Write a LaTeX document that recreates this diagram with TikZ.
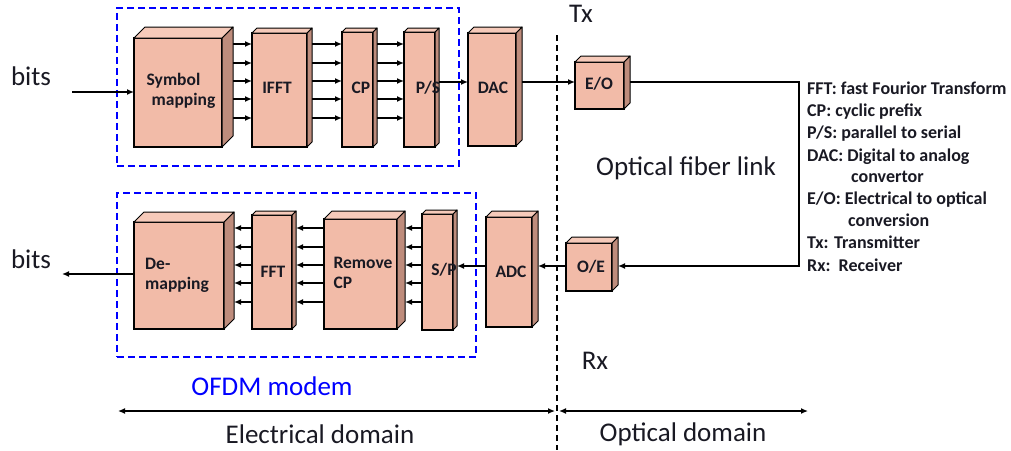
\documentclass[tikz,border=0pt]{standalone}
\usepackage{fontspec}
\setmainfont{Carlito}
\usetikzlibrary{arrows.meta,calc}
\definecolor{facec}{RGB}{242,187,168}
\definecolor{sidec}{RGB}{190,140,124}
\definecolor{topc}{RGB}{246,202,186}
\definecolor{modblue}{RGB}{0,0,255}
\definecolor{txtc}{RGB}{25,25,35}
\tikzset{
 face/.style={draw=black, line width=1.5pt, fill=facec, inner sep=0pt, outer sep=0pt, anchor=north west},
 sidef/.style={draw=black, line width=1pt, fill=sidec, line join=round},
 topf/.style={draw=black, line width=1pt, fill=topc, line join=round},
 lbl/.style={font=\bfseries\fontsize{17.5}{20}\selectfont, align=left, inner sep=0pt, text=txtc},
 arr/.style={line width=1.3pt, -{Latex[length=7pt,width=6pt]}},
 darr/.style={line width=1.3pt, {Latex[length=7pt,width=6pt]}-{Latex[length=7pt,width=6pt]}},
 big/.style={font=\fontsize{27}{30}\selectfont, inner sep=0pt, text=txtc},
 leg/.style={font=\bfseries\fontsize{18}{20}\selectfont, inner sep=0pt, anchor=base west, text=txtc},
 bluebox/.style={draw=modblue, line width=1.5pt, dash pattern=on 7pt off 4pt, inner sep=0pt, anchor=north west},
 divider/.style={line width=1.2pt, dash pattern=on 6pt off 4pt},
}
\newcommand{\blk}[9]{%
 \pgfmathsetmacro{\blkw}{#4-#2}%
 \pgfmathsetmacro{\blkh}{#5-#3}%
 \node[face, minimum width=\blkw pt, minimum height=\blkh pt] (#1) at (#2,#3) {};
 \filldraw[sidef] (#1.north east) -- ++(#6,-#6) -- ++(0,\blkh) -- (#1.south east) -- cycle;
 \filldraw[topf] (#1.north west) -- ++(#6,-#6) -- ++(\blkw,0) -- (#1.north east) -- cycle;
 \coordinate (#1-r) at ($(#1.east)+(#6,0)$);
 \node[lbl] (#1-t) at (#7,#8) {#9};
}
\begin{document}
\begin{tikzpicture}[x=1pt,y=-1pt]
\useasboundingbox (0,0) rectangle (1011,450);
% modem boxes
\node[bluebox, minimum width=342pt, minimum height=158pt] (txbox) at (116,7) {};
\node[bluebox, minimum width=359pt, minimum height=164pt] (rxbox) at (116,192) {};
% divider
\coordinate (dtop) at (557,35);
\coordinate (dbot) at (557,450);
\draw[divider] (dtop) -- (dbot);
% blocks (transmitter)
\blk{sym}{134}{38}{222}{147}{11}{181}{91}{Symbol\\\hspace*{5pt}mapping}
\blk{ifft}{252}{33}{307}{147}{5}{277}{88}{IFFT}
\blk{cp}{342}{32}{373}{147}{4}{361}{88}{CP}
\blk{ps}{404}{32}{435}{147}{4}{428}{88}{P/S}
\blk{dac}{468}{33}{516}{146}{6}{493}{88}{DAC}
\blk{eo}{575}{62}{624}{109}{6}{599}{84}{E/O}
% blocks (receiver)
\blk{oe}{566}{243}{612}{291}{6}{591}{267}{O/E}
\blk{adc}{486}{217}{532}{327}{6}{511}{272}{ADC}
\blk{sp}{422}{214}{453}{330}{4}{444}{270}{S/P}
\blk{rcp}{324}{219}{397}{329}{8}{363}{273}{Remove\\CP}
\blk{fft}{252}{215}{292}{329}{4}{273}{272}{FFT}
\blk{dem}{134}{222}{224}{329}{10}{177}{275}{De-\\mapping}
% parallel arrows (tx)
\foreach \yy in {44,63,81,99,118}{
  \draw[arr] (sym-r |- 0,\yy) -- (ifft.west |- 0,\yy);
  \draw[arr] (ifft-r |- 0,\yy) -- (cp.west |- 0,\yy);
  \draw[arr] (cp-r |- 0,\yy) -- (ps.west |- 0,\yy);
}
\coordinate (tl) at (0,82);
\draw[arr] (ps-r |- tl) -- (dac.west |- tl);
\draw[arr] (dac-r |- tl) -- (eo.west |- tl);
% parallel arrows (rx)
\foreach \yy in {228,247,265,283,302}{
  \draw[arr] (sp.west |- 0,\yy) -- (rcp-r |- 0,\yy);
  \draw[arr] (rcp.west |- 0,\yy) -- (fft-r |- 0,\yy);
  \draw[arr] (fft.west |- 0,\yy) -- (dem-r |- 0,\yy);
}
\coordinate (rl) at (0,266);
\draw[arr] (adc.west |- rl) -- (sp-r |- rl);
\draw[arr] (oe.west |- rl) -- (adc-r |- rl);
% fiber link
\coordinate (f1) at (799,82);
\coordinate (f2) at (799,266);
\draw[arr] (eo-r |- f1) -- (f1) -- (f2) -- (oe-r |- f2);
% bits
\coordinate (bin) at (72,92);
\coordinate (bout) at (62,274);
\draw[arr] (bin) -- (sym.west |- bin);
\draw[arr] (dem.west |- bout) -- (bout);
% domain arrows
\coordinate (el) at (118,411);
\coordinate (em) at (555,411);
\coordinate (om) at (559,411);
\coordinate (or) at (808,411);
\draw[darr] (el) -- (em);
\draw[darr] (om) -- (or);
% texts
\node[big] (bitsin) at (31,76) {bits};
\node[big] (bitsout) at (31,259) {bits};
\node[big] (tx) at (581,14) {Tx};
\node[big] (rx) at (595,361) {Rx};
\node[big] (fiber) at (686,168) {Optical fiber link};
\node[big, text=modblue] (ofdm) at (272,386) {OFDM modem};
\node[big] (edom) at (320,434) {Electrical domain};
\node[big] (odom) at (683,434) {Optical domain};
% legend
\node[leg] (l1) at (807,94) {FFT: fast Fourior Transform};
\node[leg] (l2) at (807,116) {CP: cyclic prefix};
\node[leg] (l3) at (807,138) {P/S: parallel to serial};
\node[leg] (l4) at (807,161) {DAC: Digital to analog};
\node[leg] (l5) at (851,182) {convertor};
\node[leg] (l6) at (807,204) {E/O: Electrical to optical};
\node[leg] (l7) at (848,226) {conversion};
\node[leg] (l8) at (807,248) {Tx: Transmitter};
\node[leg] (l9) at (807,271) {Rx:\ \ Receiver};
\end{tikzpicture}
\end{document}
